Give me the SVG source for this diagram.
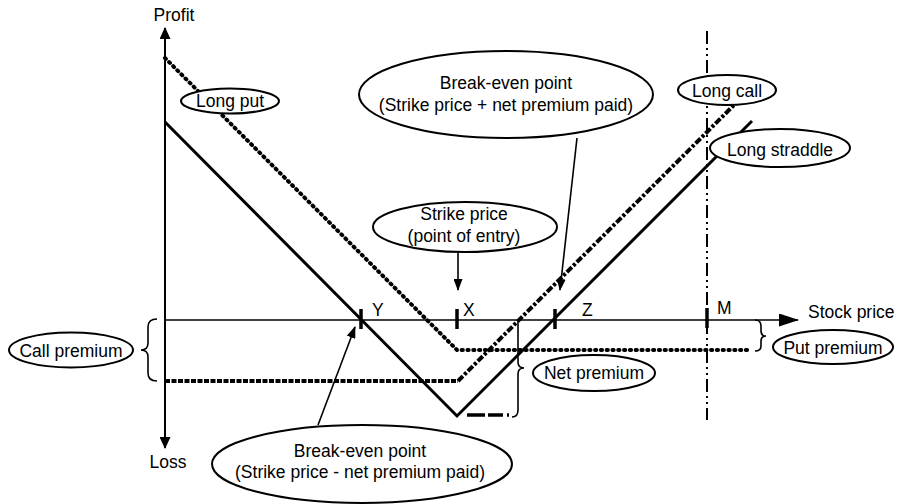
<svg xmlns="http://www.w3.org/2000/svg" width="899" height="504" viewBox="0 0 899 504">
  <defs>
    <marker id="head" markerWidth="12" markerHeight="9" refX="11" refY="4.5" orient="auto" markerUnits="userSpaceOnUse">
      <path d="M0,0 L12,4.5 L0,9 Z" fill="#000"/>
    </marker>
    <marker id="axisHead" markerWidth="20" markerHeight="13" refX="19" refY="6.5" orient="auto" markerUnits="userSpaceOnUse">
      <path d="M0,0 L20,6.5 L0,13 Z" fill="#000"/>
    </marker>
    <marker id="axisHeadV" markerWidth="12" markerHeight="11" refX="11" refY="5.5" orient="auto" markerUnits="userSpaceOnUse">
      <path d="M0,0 L12,5.5 L0,11 Z" fill="#000"/>
    </marker>
  </defs>
  <style>
    text { font-family: "Liberation Sans", Arial, sans-serif; font-size: 17.5px; fill: #000; }
    .c { text-anchor: middle; }
    .bubble { fill: #fff; stroke: #000; stroke-width: 2; }
    .axis { stroke: #000; fill: none; }
    .tick { stroke: #000; stroke-width: 3.5; }
    .put { stroke: #000; stroke-width: 4; fill: none; stroke-linecap: round; stroke-dasharray: 1.2 4.6; }
    .call-flat { stroke: #000; stroke-width: 4; fill: none; stroke-dasharray: 5 1.5; }
    .call { stroke: #000; stroke-width: 4; fill: none; stroke-dasharray: 7 2 3 2; }
    .straddle { stroke: #000; stroke-width: 3; fill: none; }
    .brace { stroke: #000; stroke-width: 1.6; fill: none; }
    .ptr { stroke: #000; stroke-width: 1.6; fill: none; marker-end: url(#head); }
  </style>

  <!-- axes, ticks and payoff lines -->
  <g id="plot">
    <line class="axis" x1="165" y1="320" x2="798" y2="320" stroke-width="1.6" marker-end="url(#axisHead)"/>
    <line class="axis" x1="165" y1="240" x2="165" y2="28" stroke-width="2" marker-end="url(#axisHeadV)"/>
    <line class="axis" x1="165" y1="240" x2="165" y2="448" stroke-width="2" marker-end="url(#axisHeadV)"/>
    <text x="174" y="21" class="c">Profit</text>
    <text x="168" y="468" class="c">Loss</text>
    <text x="808" y="318">Stock price</text>

    <!-- M reference line -->
    <line x1="707" y1="31" x2="707" y2="420" stroke="#000" stroke-width="2" stroke-dasharray="13 4 2 4 2 4"/>

    <line class="tick" x1="361" y1="309" x2="361" y2="329"/>
    <line class="tick" x1="457" y1="309" x2="457" y2="329"/>
    <line class="tick" x1="555" y1="309" x2="555" y2="329"/>
    <line class="tick" x1="707" y1="308" x2="707" y2="328"/>
    <text x="372" y="316">Y</text>
    <text x="463" y="316">X</text>
    <text x="582" y="316">Z</text>
    <text x="717" y="314">M</text>

    <polyline class="put" points="165,58 457,350 748,350"/>
    <line class="call-flat" x1="165" y1="381" x2="458" y2="381"/>
    <line class="call" x1="458" y1="381" x2="734" y2="105"/>
    <polyline class="straddle" points="165,122 457,416 752,121"/>
    <line x1="467" y1="415" x2="509" y2="415" stroke="#000" stroke-width="3.5" stroke-dasharray="18 3 15 4 2"/>

    <!-- braces -->
    <path class="brace" d="M157,319 Q148,319 148,327 L148,343 Q148,350 141,350 Q148,350 148,357 L148,373 Q148,381 157,381"/>
    <path class="brace" d="M755,320 Q761,320 761,326 L761,331 Q761,336 766,336 Q761,336 761,341 L761,346 Q761,351 755,351"/>
    <path class="brace" d="M518,320 L518,362 Q518,368 524,368 Q518,368 518,374 L518,410 Q518,417 512,417"/>
  </g>

  <g id="long-put">
    <ellipse class="bubble" cx="230" cy="101" rx="49" ry="12.5"/>
    <text x="230" y="107" class="c">Long put</text>
  </g>
  <g id="long-call">
    <ellipse class="bubble" cx="727" cy="90" rx="49" ry="15"/>
    <text x="727" y="97" class="c">Long call</text>
  </g>
  <g id="long-straddle">
    <ellipse class="bubble" cx="780" cy="148" rx="70" ry="19"/>
    <text x="780" y="156" class="c">Long straddle</text>
  </g>
  <g id="break-even-high">
    <ellipse class="bubble" cx="506" cy="94.5" rx="147" ry="43.5"/>
    <text x="506" y="89" class="c">Break-even point</text>
    <text x="506" y="111" class="c">(Strike price + net premium paid)</text>
  </g>
  <g id="strike-price">
    <ellipse class="bubble" cx="465" cy="227" rx="92" ry="25"/>
    <text x="464" y="220" class="c">Strike price</text>
    <text x="464" y="242" class="c">(point of entry)</text>
  </g>
  <g id="break-even-low">
    <ellipse class="bubble" cx="362" cy="464" rx="150" ry="39"/>
    <text x="360" y="457" class="c">Break-even point</text>
    <text x="360" y="478" class="c">(Strike price - net premium paid)</text>
  </g>
  <g id="call-premium">
    <ellipse class="bubble" cx="71" cy="350" rx="62" ry="17.5"/>
    <text x="71" y="357" class="c">Call premium</text>
  </g>
  <g id="put-premium">
    <ellipse class="bubble" cx="833" cy="347" rx="60" ry="17"/>
    <text x="833" y="354" class="c">Put premium</text>
  </g>
  <g id="net-premium">
    <ellipse class="bubble" cx="594" cy="373" rx="61" ry="18"/>
    <text x="594" y="379" class="c">Net premium</text>
  </g>

  <g id="connectors">
    <line class="ptr" x1="458" y1="252" x2="458" y2="290"/>
    <line class="ptr" x1="577" y1="138" x2="560" y2="290"/>
    <line class="ptr" x1="318" y1="425" x2="355" y2="327"/>
  </g>
</svg>
